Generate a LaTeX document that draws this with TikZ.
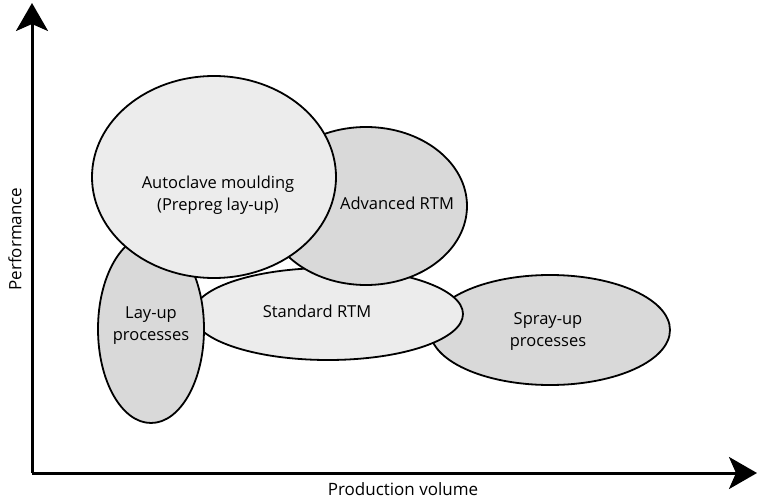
\documentclass[tikz,border=0pt]{standalone}
\usepackage{fontspec}
\setmainfont{Open Sans}
\usetikzlibrary{arrows.meta,shapes.geometric}
\definecolor{lightfill}{HTML}{ECECEC}
\definecolor{darkfill}{HTML}{D9D9D9}
\begin{document}
\begin{tikzpicture}[x=1pt,y=-1pt,
  blob/.style={draw=black,line width=1.8pt},
  lbl/.style={font=\fontsize{16.5}{22}\selectfont,align=center,inner sep=0pt},
  axlbl/.style={font=\fontsize{17}{19}\selectfont,inner sep=0pt},
  axis/.style={line width=3pt,-{Stealth[length=28pt,width=32pt,inset=7pt]}}]
\useasboundingbox (0,0) rectangle (758,500);
% ellipses, bottom to top
\draw[blob,fill=darkfill] (550,330) ellipse [x radius=120,y radius=55];
\draw[blob,fill=lightfill] (328,314) ellipse [x radius=135,y radius=46];
\draw[blob,fill=darkfill] (151,329) ellipse [x radius=53,y radius=94];
\draw[blob,fill=darkfill] (366,206) ellipse [x radius=101,y radius=79];
\draw[blob,fill=lightfill] (214,177) ellipse [x radius=122,y radius=101];
% labels
\node[lbl] (auto) at (218,195) {Autoclave moulding\\(Prepreg lay-up)};
\node[lbl] (adv) at (397,203) {Advanced RTM};
\node[lbl] (std) at (317,311) {Standard RTM};
\node[lbl] (lay) at (151,326) {Lay-up\\processes};
\node[lbl] (spray) at (548,332) {Spray-up\\processes};
% axes
\coordinate (o) at (32,473);
\coordinate (ytip) at (32,3);
\coordinate (xtip) at (757,473);
\draw[axis] (o) -- (ytip);
\draw[axis] (o) -- (xtip);
\node[axlbl,rotate=90] (perf) at (15,239) {Performance};
\node[axlbl] (prod) at (403,489) {Production volume};
\end{tikzpicture}
\end{document}
